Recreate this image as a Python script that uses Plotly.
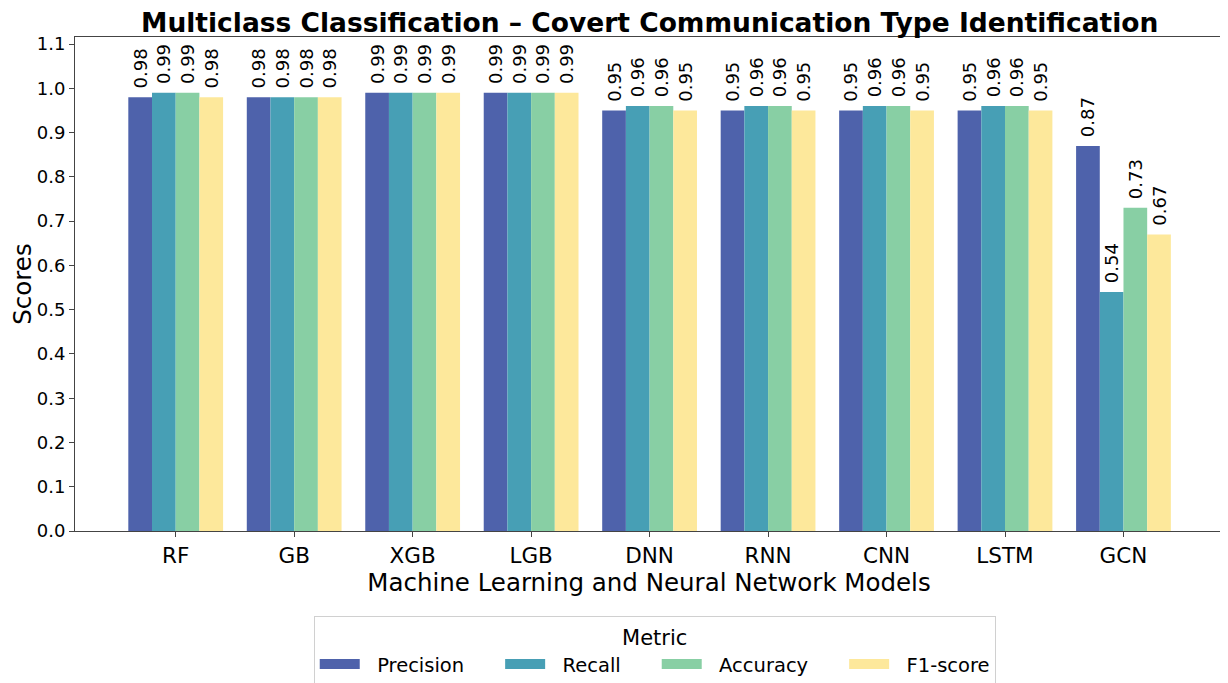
import plotly.graph_objects as go

models = ["RF", "GB", "XGB", "LGB", "DNN", "RNN", "CNN", "LSTM", "GCN"]
precision = [0.98, 0.98, 0.99, 0.99, 0.95, 0.95, 0.95, 0.95, 0.87]
recall = [0.99, 0.98, 0.99, 0.99, 0.96, 0.96, 0.96, 0.96, 0.54]
accuracy = [0.99, 0.98, 0.99, 0.99, 0.96, 0.96, 0.96, 0.96, 0.73]
f1 = [0.98, 0.98, 0.99, 0.99, 0.95, 0.95, 0.95, 0.95, 0.67]

metrics = [
    ("Precision", precision, "#4e62ab"),
    ("Recall", recall, "#479fb5"),
    ("Accuracy", accuracy, "#88cfa4"),
    ("F1-score", f1, "#fde89b"),
]

font = "DejaVu Sans"
nb = "\u00a0"
fig = go.Figure()
for i, (name, vals, color) in enumerate(metrics):
    fig.add_trace(go.Bar(
        name=name, x=list(range(len(models))), y=vals,
        marker=dict(color=color, line=dict(width=0)),
        # leading nbsp gives matplotlib-like gap above the bar
        text=[f"{nb}{v:.2f}" for v in vals],
        textposition="outside", textangle=-90, constraintext="none",
        textfont=dict(family=font, size=18, color="black"),
        cliponaxis=False, showlegend=False,
    ))
    # legend-only trace so the swatch is a wide patch like matplotlib's
    pad = "" if i == len(metrics) - 1 else nb * 5
    fig.add_trace(go.Scatter(
        name=nb * 2 + name + pad, x=[None], y=[None], mode="lines",
        line=dict(color=color, width=10), showlegend=True,
    ))

# page body adds 8px offset, so the figure is 8px smaller and margins shifted
fig.update_layout(
    width=1220, height=675,
    barmode="group", bargap=0.2, bargroupgap=0,
    plot_bgcolor="white", paper_bgcolor="white",
    font=dict(family=font, color="black"),
    margin=dict(l=67, r=5, t=29, b=152, autoexpand=False),
    title=dict(text="<b>Multiclass Classification – Covert Communication Type Identification</b>",
               x=0.526, xanchor="center", y=1 - 15 / 675, yanchor="middle",
               font=dict(family=font, size=26.5, color="black")),
    xaxis=dict(
        tickmode="array", tickvals=list(range(len(models))), ticktext=models,
        range=[-0.85, 8.84], automargin=False,
        title=dict(text="Machine Learning and Neural Network Models", font=dict(size=24.5), standoff=2),
        tickfont=dict(size=21.5),
        showline=True, mirror=True, linecolor="#444", linewidth=1,
        ticks="outside", ticklen=5, tickcolor="#444", showgrid=False,
    ),
    yaxis=dict(
        range=[0, 1.116], dtick=0.1, tickformat=".1f", automargin=False,
        title=dict(text="Scores", font=dict(size=24.5), standoff=6),
        tickfont=dict(size=18),
        showline=True, mirror=True, linecolor="#444", linewidth=1,
        ticks="outside", ticklen=5, tickcolor="#444", showgrid=False, zeroline=False,
    ),
    legend=dict(
        orientation="h", x=0.505, xanchor="center", y=-0.173, yanchor="top",
        title=dict(text="Metric", side="top center", font=dict(size=21)),
        font=dict(size=19.5), bordercolor="#d0d0d0", borderwidth=1,
        itemwidth=40, entrywidth=0,
    ),
)

fig.write_html("out.html")
